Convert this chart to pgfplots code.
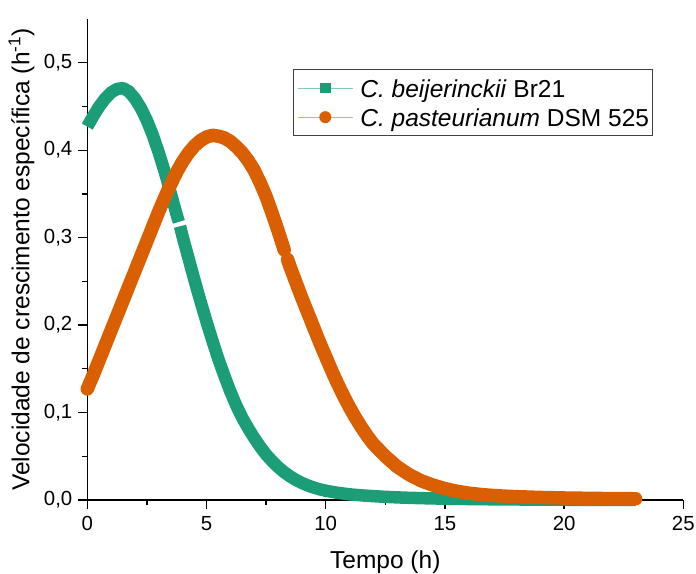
\documentclass[border=0pt]{standalone}
\usepackage{fontspec}
\setmainfont{Liberation Sans}
\usepackage{pgfplots}
\pgfplotsset{compat=1.18}
\usepackage{pgfplotstable}
\usetikzlibrary{calc}

\definecolor{brGreen}{HTML}{1B9E77}
\definecolor{dsmOrange}{HTML}{D95F02}

% Specific growth rate (1/h) against time (h); "nan" rows split a curve into two pieces
\pgfplotstableread{
t     mu
0.00  0.427
0.25  0.439
0.50  0.450
0.75  0.459
1.00  0.466
1.25  0.470
1.50  0.471
1.75  0.467
2.00  0.459
2.25  0.448
2.50  0.434
2.75  0.417
3.00  0.397
3.25  0.375
3.50  0.351
3.75  0.326
3.84  0.318
nan   nan
3.89  0.313
4.00  0.301
4.25  0.276
4.50  0.251
4.75  0.227
5.00  0.204
5.25  0.182
5.50  0.161
5.75  0.142
6.00  0.124
6.25  0.108
6.50  0.094
6.75  0.082
7.00  0.071
7.25  0.061
7.50  0.052
7.75  0.0445
8.00  0.0378
8.25  0.0320
8.50  0.0271
8.75  0.0230
9.00  0.0195
9.25  0.0166
9.50  0.0142
9.75  0.0122
10.0  0.0106
10.5  0.0082
11.0  0.0065
11.5  0.0053
12.0  0.0044
12.5  0.0036
13.0  0.0030
13.5  0.0025
14.0  0.0021
15.0  0.0015
16.0  0.0011
17.0  0.0008
18.0  0.0006
19.0  0.0004
20.0  0.0003
21.0  0.0002
22.0  0.00015
23.0  0.0001
}\beijerinckii

\pgfplotstableread{
t     mu
0.00  0.127
0.25  0.143
0.50  0.160
0.75  0.177
1.00  0.194
1.25  0.211
1.50  0.228
1.75  0.245
2.00  0.262
2.25  0.279
2.50  0.296
2.75  0.313
3.00  0.330
3.25  0.346
3.50  0.361
3.75  0.375
4.00  0.387
4.25  0.397
4.50  0.405
4.75  0.411
5.00  0.415
5.25  0.417
5.50  0.416
5.75  0.414
6.00  0.410
6.25  0.404
6.50  0.397
6.75  0.388
7.00  0.377
7.25  0.363
7.50  0.347
7.75  0.328
8.00  0.308
8.26  0.286
nan   nan
8.40  0.275
8.50  0.267
8.75  0.249
9.00  0.231
9.25  0.214
9.50  0.197
9.75  0.180
10.00 0.164
10.25 0.148
10.50 0.133
10.75 0.119
11.00 0.106
11.25 0.094
11.50 0.083
11.75 0.073
12.00 0.064
12.25 0.057
12.50 0.050
12.75 0.044
13.00 0.038
13.50 0.029
14.00 0.022
14.50 0.017
15.00 0.013
15.50 0.010
16.00 0.0078
16.50 0.0063
17.00 0.0052
17.50 0.0044
18.00 0.0038
19.00 0.0029
20.00 0.0023
21.00 0.0019
22.00 0.0016
23.00 0.0014
}\pasteurianum

\begin{document}
\begin{tikzpicture}
\begin{axis}[
  scale only axis,
  width=596bp, height=481bp,
  xmin=0, xmax=25, ymin=0, ymax=0.55,
  axis x line*=bottom, axis y line*=left,
  axis line style={black, line width=1.4bp},
  clip=false,
  unbounded coords=jump,
  xtick={0,5,10,15,20,25},
  minor xtick={2.5,7.5,12.5,17.5,22.5},
  ytick={0,0.1,0.2,0.3,0.4,0.5},
  minor ytick={0.05,0.15,0.25,0.35,0.45},
  tick align=outside,
  major tick length=9bp, minor tick length=5bp,
  every tick/.style={black, line width=1.3bp},
  /pgf/number format/assume math mode=true,
  yticklabel style={xshift=-2.5bp, /pgf/number format/.cd, fixed, fixed zerofill, precision=1, use comma},
  xticklabel style={yshift=-4bp},
  tick label style={font=\fontsize{20.4bp}{24bp}\selectfont},
  label style={font=\fontsize{24.5bp}{29bp}\selectfont},
  xlabel={Tempo (h)},
  ylabel={Velocidade de crescimento específica (h\textsuperscript{-1})},
  xlabel style={at={(axis description cs:0.5,-0.142)}, anchor=base},
  ylabel style={at={(axis description cs:-0.097,0.5)}, anchor=base},
  legend cell align=left,
  legend style={
    at={(rel axis cs:0.3456,0.8954)}, anchor=north west,
    draw=black!75, line width=1bp,
    font=\fontsize{24.5bp}{29bp}\selectfont,
    inner xsep=3.4bp, inner ysep=6.35bp,
    row sep=5bp, column sep=7bp,
    nodes={inner sep=0pt, text height=21bp, text depth=3bp},
  },
]
% dense fitted curves, drawn as thick bands
\addplot[forget plot, brGreen, line width=12.5bp, line cap=butt, line join=round]
  table[x=t, y=mu] {\beijerinckii};
\addplot[forget plot, dsmOrange, line width=13.5bp, line cap=round, line join=round]
  table[x=t, y=mu] {\pasteurianum};

\addlegendimage{legend image code/.code={
  \draw[brGreen!55, line width=1.2bp] (0bp,0bp) -- (55bp,0bp);
  \path[fill=brGreen, draw=none] (22.2bp,-5.3bp) rectangle (32.8bp,5.3bp);}}
\addlegendentry{\textit{C. beijerinckii} Br21}
\addlegendimage{legend image code/.code={
  \draw[dsmOrange!55, line width=1.2bp] (0bp,0bp) -- (55bp,0bp);
  \path[fill=dsmOrange, draw=none] (27.5bp,0bp) circle (6bp);}}
\addlegendentry{\textit{C. pasteurianum} DSM 525}

\coordinate (origin) at (rel axis cs:0,0);
\end{axis}
\pgfresetboundingbox
\useasboundingbox ($(origin)+(-87.3bp,-74bp)$) rectangle ($(origin)+(608.7bp,500bp)$);
\end{tikzpicture}
\end{document}
